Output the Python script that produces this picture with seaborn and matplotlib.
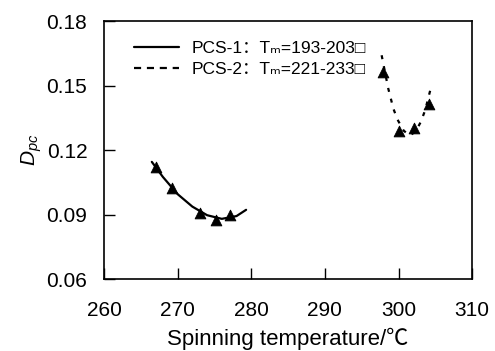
import matplotlib
matplotlib.use("Agg")
import matplotlib.pyplot as plt
import seaborn as sns
import pandas as pd

# measured points (triangles)
pcs1_temp = [267.0, 269.2, 273.0, 275.2, 277.1]
pcs1_dpc = [0.1123, 0.1025, 0.0905, 0.0875, 0.0898]
pcs2_temp = [297.9, 300.1, 302.1, 304.1]
pcs2_dpc = [0.1563, 0.1288, 0.1304, 0.1416]

# trend curves
pcs1_fit_temp = [266.5, 268.0, 270.0, 272.0, 274.0, 276.0, 278.0, 279.3]
pcs1_fit_dpc = [0.1145, 0.1075, 0.0995, 0.0937, 0.0897, 0.0880, 0.0893, 0.0922]
pcs2_fit_temp = [297.7, 298.6, 299.3, 299.85, 300.7, 301.5, 302.3, 303.0, 303.6, 304.3]
pcs2_fit_dpc = [0.1641, 0.1486, 0.1392, 0.1342, 0.1290, 0.1268, 0.1285, 0.1330, 0.1384, 0.1478]

legend_labels = ["PCS-1：Tₘ=193-203□", "PCS-2：Tₘ=221-233□"]
x_ticks = [260, 270, 280, 290, 300, 310]
y_ticks = [0.06, 0.09, 0.12, 0.15, 0.18]

sns.set_theme(style="white")
plt.rcParams['font.family'] = ['Liberation Sans', 'Noto Sans CJK SC', 'DejaVu Sans']
plt.rcParams['mathtext.fontset'] = 'custom'
plt.rcParams['mathtext.rm'] = 'Liberation Sans'
plt.rcParams['mathtext.it'] = 'Liberation Sans:italic'
for key in ['text.color', 'axes.labelcolor', 'xtick.color', 'ytick.color', 'axes.edgecolor']:
    plt.rcParams[key] = 'black'

fig = plt.figure(figsize=(4.95, 3.51), dpi=100)
ax = fig.add_axes([0.21, 0.205, 0.744, 0.735])

fit1 = pd.DataFrame({"T": pcs1_fit_temp, "D": pcs1_fit_dpc})
fit2 = pd.DataFrame({"T": pcs2_fit_temp, "D": pcs2_fit_dpc})
sns.lineplot(data=fit1, x="T", y="D", color="black", lw=1.6, ax=ax, label=legend_labels[0], sort=False)
sns.lineplot(data=fit2, x="T", y="D", color="black", lw=1.6, ax=ax, label=legend_labels[1], sort=False)
ax.lines[1].set_dashes([1.8, 3.2])

pts = pd.DataFrame({"T": pcs1_temp + pcs2_temp, "D": pcs1_dpc + pcs2_dpc})
sns.scatterplot(data=pts, x="T", y="D", marker="^", color="black", s=60, edgecolor="black", ax=ax, zorder=3)

ax.set_xlim(260, 310)
ax.set_ylim(0.06, 0.18)
ax.set_xticks(x_ticks)
ax.set_yticks(y_ticks)
ax.set_yticklabels([f"{v:.2f}" for v in y_ticks])
ax.tick_params(direction="in", length=8, width=1, labelsize=15, bottom=True, left=True)
ax.tick_params(axis="x", pad=16)
ax.tick_params(axis="y", pad=12)
for s in ax.spines.values():
    s.set_linewidth(1.2)

ax.set_xlabel("Spinning temperature/℃", fontsize=16)
ax.xaxis.set_label_coords(0.5, -0.19)
ax.set_ylabel(r"$D_{pc}$", fontsize=15, labelpad=2)

leg = ax.legend(loc="upper left", bbox_to_anchor=(0.04, 0.985), frameon=False, fontsize=12.5,
                handlelength=2.6, handletextpad=0.7, labelspacing=0.35)
leg.get_lines()[1].set_dashes([3.2, 2.6])

fig.savefig("out.png", dpi=100)
